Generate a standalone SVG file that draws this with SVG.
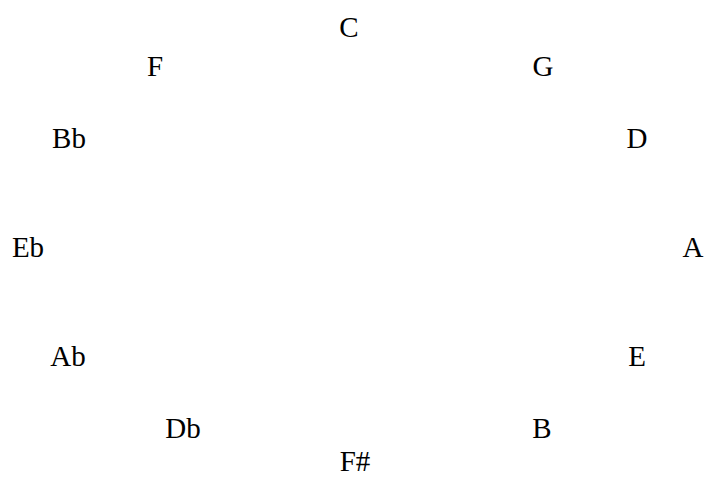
<svg xmlns="http://www.w3.org/2000/svg" width="707" height="478" viewBox="0 0 707 478">
<style>
.lbl{font-family:"Liberation Serif","Times New Roman",serif;font-size:29px;fill:#000;text-anchor:middle}
</style>
<rect width="707" height="478" fill="#fff"/>
<g id="n-C"><text class="lbl" x="349" y="37">C</text></g>
<g id="n-G"><text class="lbl" x="543" y="76">G</text></g>
<g id="n-D"><text class="lbl" x="637" y="148">D</text></g>
<g id="n-A"><text class="lbl" x="693" y="257">A</text></g>
<g id="n-E"><text class="lbl" x="637" y="366">E</text></g>
<g id="n-B"><text class="lbl" x="542" y="438">B</text></g>
<g id="n-Fs"><text class="lbl" x="355" y="471">F#</text></g>
<g id="n-Db"><text class="lbl" x="183" y="438">Db</text></g>
<g id="n-Ab"><text class="lbl" x="68" y="366">Ab</text></g>
<g id="n-Eb"><text class="lbl" x="28" y="257">Eb</text></g>
<g id="n-Bb"><text class="lbl" x="69" y="148">Bb</text></g>
<g id="n-F"><text class="lbl" x="155" y="76">F</text></g>
<g id="connectors"></g>
</svg>
